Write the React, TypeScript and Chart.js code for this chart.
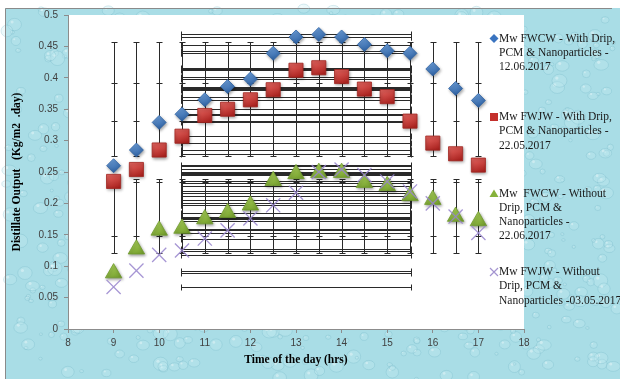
import React, { useEffect, useRef } from 'react';
import { Chart, registerables } from 'chart.js';

Chart.register(...registerables);

// ---------------- data ----------------
const times = [9, 9.5, 10, 10.5, 11, 11.5, 12, 12.5, 13, 13.5, 14, 14.5, 15, 15.5, 16, 16.5, 17];
const fwcwWith = [0.260, 0.285, 0.329, 0.342, 0.365, 0.386, 0.398, 0.439, 0.465, 0.469, 0.465, 0.453, 0.443, 0.439, 0.414, 0.383, 0.364];
const fwjwWith = [0.235, 0.254, 0.285, 0.307, 0.340, 0.350, 0.365, 0.381, 0.412, 0.416, 0.402, 0.382, 0.370, 0.331, 0.296, 0.279, 0.261];
const fwcwWithout = [0.089, 0.127, 0.157, 0.160, 0.175, 0.185, 0.197, 0.236, 0.247, 0.249, 0.249, 0.233, 0.228, 0.212, 0.206, 0.179, 0.172];
const fwjwWithout = [0.067, 0.093, 0.118, 0.125, 0.144, 0.157, 0.176, 0.197, 0.217, 0.250, 0.254, 0.245, 0.235, 0.219, 0.200, 0.179, 0.153];

const seriesNames = [
  'Mw FWCW - With Drip, PCM & Nanoparticles - 12.06.2017',
  'Mw FWJW - With Drip, PCM & Nanoparticles - 22.05.2017',
  'Mw  FWCW - Without Drip, PCM & Nanoparticles - 22.06.2017',
  'Mw FWJW - Without Drip, PCM & Nanoparticles -03.05.2017',
];
const legendLines = [
  ['Mw FWCW - With Drip,', 'PCM & Nanoparticles -', '12.06.2017'],
  ['Mw FWJW - With Drip,', 'PCM & Nanoparticles -', '22.05.2017'],
  ['Mw  FWCW - Without', 'Drip, PCM &', 'Nanoparticles -', '22.06.2017'],
  ['Mw FWJW - Without', 'Drip, PCM &', 'Nanoparticles -03.05.2017'],
];

const xTickValues = [8, 9, 10, 11, 12, 13, 14, 15, 16, 17, 18];
const yTickLabels = ['0', '0.05', '0.1', '0.15', '0.2', '0.25', '0.3', '0.35', '0.4', '0.45', '0.5'];

const xTitle = 'Time of the day (hrs)';
const yTitle = 'Distillate Output   (Kg/m2  .day)';

// ---------------- helpers ----------------
function meanSd(arr: number[]): [number, number] {
  const n = arr.length;
  const m = arr.reduce((a, b) => a + b, 0) / n;
  const v = arr.reduce((a, b) => a + (b - m) * (b - m), 0) / (n - 1);
  return [m, Math.sqrt(v)];
}

function markerFill(top: string, bottom: string, half: number) {
  return (c: any) => {
    const chart = c.chart;
    if (c.type !== 'data' || !chart.chartArea || !c.raw) return bottom;
    const px = chart.scales.x.getPixelForValue(c.raw.x);
    const py = chart.scales.y.getPixelForValue(c.raw.y);
    const g = chart.ctx.createLinearGradient(px - half * 0.4, py - half, px + half * 0.4, py + half);
    g.addColorStop(0, top);
    g.addColorStop(1, bottom);
    return g;
  };
}

const SERIF = '"Times New Roman", "Liberation Serif", serif';
const SANS = '"Liberation Sans", Arial, sans-serif';

// ---------------- plugins ----------------
const backgroundPlugin = {
  id: 'waterBackground',
  beforeDraw(chart: any) {
    const { ctx, chartArea: a, width, height } = chart;
    ctx.save();
    ctx.fillStyle = '#ffffff';
    ctx.fillRect(0, 0, width, height);
    ctx.fillStyle = '#a9dde6';
    ctx.fillRect(5, 8, width - 5, height - 8);
    // droplet texture (deterministic)
    let seed = 12345;
    const rnd = () => {
      seed = (seed * 1103515245 + 12345) % 2147483648;
      return seed / 2147483648;
    };
    for (let i = 0; i < 700; i++) {
      const x = 5 + rnd() * (width - 5);
      const y = 8 + rnd() * (height - 8);
      const r = 1.5 + rnd() * 6;
      ctx.beginPath();
      ctx.ellipse(x, y, r, r * (0.7 + rnd() * 0.3), 0, 0, Math.PI * 2);
      ctx.fillStyle = 'rgba(196,236,243,0.3)';
      ctx.fill();
      ctx.strokeStyle = 'rgba(95,168,188,0.22)';
      ctx.lineWidth = 1;
      ctx.stroke();
      ctx.beginPath();
      ctx.arc(x - r * 0.35, y - r * 0.35, r * 0.22, 0, Math.PI * 2);
      ctx.fillStyle = 'rgba(255,255,255,0.35)';
      ctx.fill();
    }
    ctx.strokeStyle = '#8a8a8a';
    ctx.lineWidth = 1;
    ctx.beginPath();
    ctx.moveTo(5.5, height);
    ctx.lineTo(5.5, 8.5);
    ctx.lineTo(612, 8.5);
    ctx.stroke();
    ctx.fillStyle = '#ffffff';
    ctx.fillRect(a.left, a.top, a.right - a.left, a.bottom - a.top);
    ctx.restore();
  },
};

const errorBarPlugin = {
  id: 'sdErrorBars',
  beforeDatasetsDraw(chart: any) {
    const { ctx } = chart;
    const xs = chart.scales.x;
    const ys = chart.scales.y;
    ctx.save();
    ctx.strokeStyle = '#2a2a2a';
    ctx.lineWidth = 1;
    const cap = 3;
    chart.data.datasets.forEach((ds: any) => {
      const pts = ds.data as { x: number; y: number }[];
      const [mx, sx] = meanSd(pts.map((p) => p.x));
      const [my, sy] = meanSd(pts.map((p) => p.y));
      const x1 = Math.round(xs.getPixelForValue(mx - sx)) + 0.5;
      const x2 = Math.round(xs.getPixelForValue(mx + sx)) + 0.5;
      const y1 = Math.round(ys.getPixelForValue(my - sy)) + 0.5;
      const y2 = Math.round(ys.getPixelForValue(my + sy)) + 0.5;
      ctx.beginPath();
      pts.forEach((p) => {
        const px = Math.round(xs.getPixelForValue(p.x)) + 0.5;
        const py = Math.round(ys.getPixelForValue(p.y)) + 0.5;
        // vertical SD bar (centred on series mean, as in the source)
        ctx.moveTo(px, y1);
        ctx.lineTo(px, y2);
        ctx.moveTo(px - cap, y1);
        ctx.lineTo(px + cap, y1);
        ctx.moveTo(px - cap, y2);
        ctx.lineTo(px + cap, y2);
        // horizontal SD bar
        ctx.moveTo(x1, py);
        ctx.lineTo(x2, py);
        ctx.moveTo(x1, py - cap);
        ctx.lineTo(x1, py + cap);
        ctx.moveTo(x2, py - cap);
        ctx.lineTo(x2, py + cap);
      });
      ctx.stroke();
    });
    ctx.restore();
  },
};

const shadowPlugin = {
  id: 'markerShadow',
  beforeDatasetDraw(chart: any, args: any) {
    const ctx = chart.ctx;
    ctx.save();
    if (args.index !== 3) {
      ctx.shadowColor = 'rgba(0,0,0,0.35)';
      ctx.shadowBlur = 3;
      ctx.shadowOffsetX = 1;
      ctx.shadowOffsetY = 1.5;
    }
  },
  afterDatasetDraw(chart: any) {
    chart.ctx.restore();
  },
};

const legendPlugin = {
  id: 'sideLegend',
  afterDraw(chart: any) {
    const { ctx } = chart;
    const markerX = 494;
    const textX = 499;
    const starts = [38.5, 117, 193.5, 272];
    const lineH = 14.3;
    ctx.save();
    // diamond
    ctx.fillStyle = '#3a74c0';
    ctx.beginPath();
    ctx.moveTo(markerX, starts[0] - 4.5);
    ctx.lineTo(markerX + 4.5, starts[0]);
    ctx.lineTo(markerX, starts[0] + 4.5);
    ctx.lineTo(markerX - 4.5, starts[0]);
    ctx.closePath();
    ctx.fill();
    // square
    ctx.fillStyle = '#c4302c';
    ctx.fillRect(markerX - 4, starts[1] - 4, 8, 8);
    // triangle
    ctx.fillStyle = '#86b23a';
    ctx.beginPath();
    ctx.moveTo(markerX, starts[2] - 4);
    ctx.lineTo(markerX + 4.5, starts[2] + 3.5);
    ctx.lineTo(markerX - 4.5, starts[2] + 3.5);
    ctx.closePath();
    ctx.fill();
    // x
    ctx.strokeStyle = '#a494d0';
    ctx.lineWidth = 1.2;
    ctx.beginPath();
    ctx.moveTo(markerX - 4, starts[3] - 4);
    ctx.lineTo(markerX + 4, starts[3] + 4);
    ctx.moveTo(markerX + 4, starts[3] - 4);
    ctx.lineTo(markerX - 4, starts[3] + 4);
    ctx.stroke();
    // text
    ctx.fillStyle = '#1a1a1a';
    ctx.font = '11.5px ' + SERIF;
    ctx.textBaseline = 'middle';
    ctx.textAlign = 'left';
    legendLines.forEach((lines, i) => {
      lines.forEach((line, j) => {
        ctx.fillText(line, textX, starts[i] + j * lineH);
      });
    });
    ctx.restore();
  },
};

// ---------------- component ----------------
export default function App() {
  const canvasRef = useRef<HTMLCanvasElement | null>(null);

  useEffect(() => {
    if (!canvasRef.current) return;
    const toPts = (vals: number[]) => times.map((t, i) => ({ x: t, y: vals[i] }));
    const chart = new Chart(canvasRef.current, {
      type: 'scatter',
      data: {
        datasets: [
          {
            label: seriesNames[0],
            data: toPts(fwcwWith),
            pointStyle: 'rectRot',
            pointRadius: 7,
            backgroundColor: markerFill('#6fa2de', '#2a5c9c', 7),
            borderColor: '#2f63a5',
            borderWidth: 0.8,
            order: 3,
          },
          {
            label: seriesNames[1],
            data: toPts(fwjwWith),
            pointStyle: 'rect',
            pointRadius: 10,
            backgroundColor: markerFill('#e4615c', '#a8211e', 7),
            borderColor: '#9f2420',
            borderWidth: 0.8,
            order: 2,
          },
          {
            label: seriesNames[2],
            data: toPts(fwcwWithout),
            pointStyle: 'triangle',
            pointRadius: 9.5,
            backgroundColor: markerFill('#a8d058', '#6c9626', 8),
            borderColor: '#6f9a2c',
            borderWidth: 0.8,
            order: 1,
          },
          {
            label: seriesNames[3],
            data: toPts(fwjwWithout),
            pointStyle: 'crossRot',
            pointRadius: 10,
            borderColor: 'rgba(150,132,205,0.85)',
            borderWidth: 1.3,
            backgroundColor: 'rgba(150,132,205,0.85)',
            order: 0,
          },
        ],
      },
      options: {
        responsive: false,
        animation: false,
        events: [],
        layout: { padding: { left: 0, top: 15, right: 96, bottom: 0 } },
        plugins: {
          legend: { display: false },
          tooltip: { enabled: false },
        },
        scales: {
          x: {
            type: 'linear',
            min: 8,
            max: 18,
            afterBuildTicks: (s: any) => {
              s.ticks = xTickValues.map((v) => ({ value: v }));
            },
            afterFit: (s: any) => {
              s.height = 50;
            },
            ticks: {
              color: '#404040',
              font: { family: SANS, size: 10 },
              padding: 4,
              callback: (v: any) => String(v),
            },
            grid: { drawOnChartArea: false, drawTicks: true, tickLength: 4, color: '#8c8c8c' },
            border: { display: true, color: '#8c8c8c' },
            title: {
              display: true,
              text: xTitle,
              color: '#000',
              font: { family: SERIF, size: 11.5, weight: 'bold' },
              padding: { top: 0, bottom: 12 },
            },
          },
          y: {
            type: 'linear',
            min: 0,
            max: 0.5,
            afterBuildTicks: (s: any) => {
              s.ticks = yTickLabels.map((l) => ({ value: parseFloat(l) }));
            },
            afterFit: (s: any) => {
              s.width = 68;
            },
            ticks: {
              color: '#404040',
              font: { family: SANS, size: 10 },
              padding: 6,
              callback: (_v: any, i: number) => yTickLabels[i],
            },
            grid: { drawOnChartArea: false, drawTicks: true, tickLength: 4, color: '#8c8c8c' },
            border: { display: true, color: '#8c8c8c' },
            title: {
              display: true,
              text: yTitle,
              color: '#000',
              font: { family: SERIF, size: 11.5, weight: 'bold' },
              padding: { top: 10, bottom: 0 },
            },
          },
        },
      },
      plugins: [backgroundPlugin, errorBarPlugin, shadowPlugin, legendPlugin],
    } as any);
    return () => chart.destroy();
  }, []);

  return (
    <div style={{ position: 'absolute', left: 0, top: 0, width: 620, height: 379 }}>
      <canvas ref={canvasRef} width={620} height={379} style={{ display: 'block' }} />
    </div>
  );
}
